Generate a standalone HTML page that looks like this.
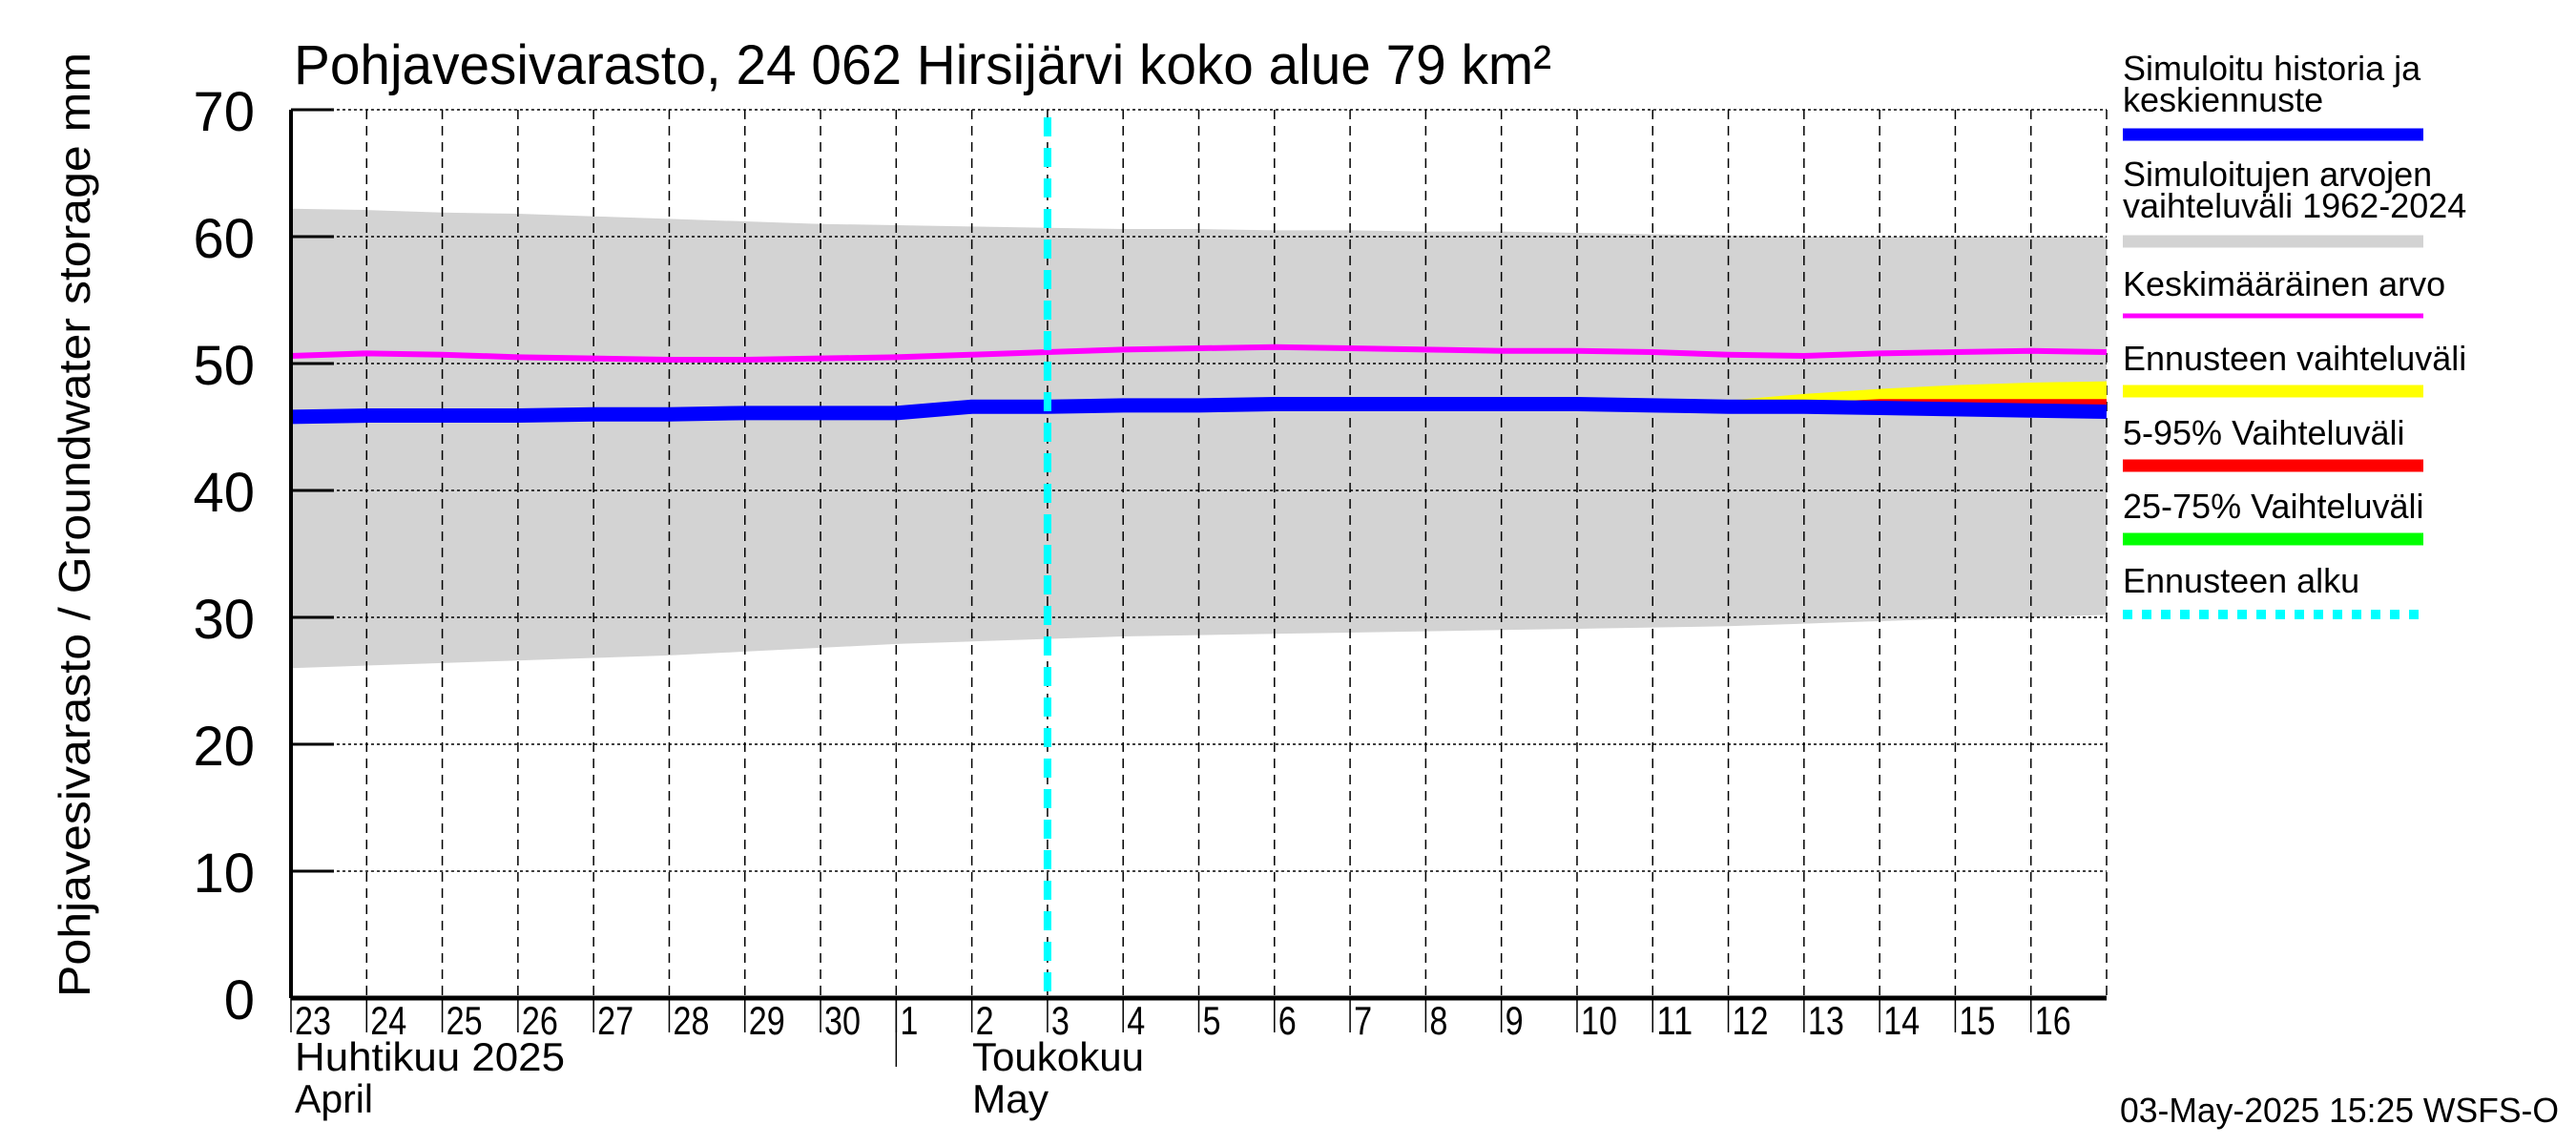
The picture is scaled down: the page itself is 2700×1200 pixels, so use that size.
<!DOCTYPE html>
<html><head><meta charset="utf-8"><style>
html,body{margin:0;padding:0;background:#fff;}
svg{display:block;font-family:"Liberation Sans",sans-serif;}
</style></head><body>
<svg id="chart" width="2700" height="1200" viewBox="0 0 2700 1200" xmlns="http://www.w3.org/2000/svg">
<rect width="2700" height="1200" fill="#fff"/>
<g id="plot"></g>
<text x="308" y="88" font-size="58" textLength="1318" lengthAdjust="spacingAndGlyphs">Pohjavesivarasto, 24 062 Hirsijärvi koko alue 79 km²</text>
<text transform="translate(94,1045) rotate(-90)" font-size="46" textLength="990" lengthAdjust="spacingAndGlyphs">Pohjavesivarasto / Groundwater storage   mm</text>
<g id="legend"></g>
<text x="309" y="1122" font-size="42" textLength="283" lengthAdjust="spacingAndGlyphs">Huhtikuu  2025</text>
<text x="309" y="1166" font-size="42" textLength="82" lengthAdjust="spacingAndGlyphs">April</text>
<text x="1019" y="1122" font-size="42" textLength="180" lengthAdjust="spacingAndGlyphs">Toukokuu</text>
<text x="1019" y="1166" font-size="42" textLength="80" lengthAdjust="spacingAndGlyphs">May</text>
<text x="2222" y="1176" font-size="36" textLength="460" lengthAdjust="spacingAndGlyphs">03-May-2025 15:25 WSFS-O</text>
</svg>
<script>
const dayLabels = ["23","24","25","26","27","28","29","30","1","2","3","4","5","6","7","8","9","10","11","12","13","14","15","16"];
const yTicks = [0,10,20,30,40,50,60,70];
// values at each day boundary (25 points: Apr 23 .. May 17)
const rangeUpper = [62.2,62.1,61.9,61.8,61.6,61.4,61.2,61.0,60.9,60.8,60.7,60.6,60.6,60.5,60.5,60.4,60.4,60.3,60.2,60.1,60.0,60.0,60.0,60.0,60.0];
const rangeLower = [26.0,26.2,26.4,26.6,26.8,27.0,27.3,27.6,27.9,28.1,28.3,28.5,28.6,28.7,28.8,28.9,29.0,29.1,29.2,29.3,29.5,29.7,29.9,30.0,30.2];
const meanValues = [50.6,50.8,50.7,50.5,50.4,50.3,50.3,50.4,50.5,50.7,50.9,51.1,51.2,51.3,51.2,51.1,51.0,51.0,50.9,50.7,50.6,50.8,50.9,51.0,50.9];
const simValues = [45.8,45.9,45.9,45.9,46.0,46.0,46.1,46.1,46.1,46.6,46.6,46.7,46.7,46.8,46.8,46.8,46.8,46.8,46.7,46.6,46.6,46.5,46.4,46.3,46.2];
const forecastUpper = [null,null,null,null,null,null,null,null,null,null,46.6,46.7,46.7,46.8,46.8,46.8,46.8,46.8,46.9,47.1,47.6,48.0,48.3,48.5,48.6];
const p95Upper = [null,null,null,null,null,null,null,null,null,null,46.6,46.7,46.7,46.8,46.8,46.8,46.8,46.8,46.8,46.8,46.9,47.2,47.2,47.2,47.2];
const forecastStartIndex = 10;

const L=305,R=2208,T=115,B=1046,N=24;
const xs=i=>L+(R-L)*i/N;
const ys=v=>B-(B-T)*v/70;
const NS="http://www.w3.org/2000/svg";
const plot=document.getElementById('plot');
function mk(tag,attrs,parent){const e=document.createElementNS(NS,tag);for(const k in attrs)e.setAttribute(k,attrs[k]);(parent||plot).appendChild(e);return e;}

let d='M'+rangeUpper.map((v,i)=>xs(i)+','+ys(v)).join(' L');
for(let i=rangeLower.length-1;i>=0;i--) d+=' L'+xs(i)+','+ys(rangeLower[i]);
let band=mk('path',{d:d+'Z',fill:'#d3d3d3'});



yTicks.forEach(v=>{
  if(v>0&&v<70){let g=mk('line',{x1:L,x2:R,y1:ys(v),y2:ys(v),stroke:'#000','stroke-width':1.5,'stroke-dasharray':'3,3'});
  
  }
  let tk=mk('line',{x1:L,x2:L+45,y1:ys(v),y2:ys(v),stroke:'#000','stroke-width':3});
  
  
  let t=mk('text',{x:L-38,y:ys(v)+22,'font-size':58,'text-anchor':'end'});
  t.textContent=v;
  
  
});
let topg=mk('line',{x1:L,x2:R,y1:T,y2:T,stroke:'#000','stroke-width':1.5,'stroke-dasharray':'3,3'});


for(let i=1;i<=N;i++){
  let g=mk('line',{x1:xs(i),x2:xs(i),y1:T,y2:B,stroke:'#000','stroke-width':1.5,'stroke-dasharray':'10,7'});
  
  
}
dayLabels.forEach((lab,i)=>{
  let tk=mk('line',{x1:xs(i),x2:xs(i),y1:B,y2:B+36,stroke:'#000','stroke-width':1.5});
  
  
  let t=mk('text',{x:xs(i)+4,y:1084,'font-size':42,'textLength':lab.length*19,'lengthAdjust':'spacingAndGlyphs'});
  t.textContent=lab;
  
  
});
let sep=mk('line',{x1:xs(8),x2:xs(8),y1:B,y2:1118,stroke:'#000','stroke-width':1.5});



function bandPath(up,low){let idx=[];up.forEach((v,i)=>{if(v!==null)idx.push(i);});
  let p='M'+idx.map(i=>xs(i)+','+ys(up[i])).join(' L');
  for(let k=idx.length-1;k>=0;k--)p+=' L'+xs(idx[k])+','+ys(low[idx[k]]);return p+'Z';}
let yb=mk('path',{d:bandPath(forecastUpper,simValues),fill:'#ffff00'});


let rb=mk('path',{d:bandPath(p95Upper,simValues),fill:'#ff0000'});



function line(vals,color,w){return mk('polyline',{points:vals.map((v,i)=>xs(i)+','+ys(v)).join(' '),fill:'none',stroke:color,'stroke-width':w,'stroke-linejoin':'round'});}
let ml=line(meanValues,'#ff00ff',6);


let sl=line(simValues,'#0000ff',15);



let fc=mk('line',{x1:xs(forecastStartIndex),x2:xs(forecastStartIndex),y1:T+8,y2:B,stroke:'#00ffff','stroke-width':8,'stroke-dasharray':'20,12'});



let ax=mk('line',{x1:L,x2:R,y1:B,y2:B,stroke:'#000','stroke-width':5});


let ay=mk('line',{x1:L,x2:L,y1:T,y2:B,stroke:'#000','stroke-width':4});



const leg=document.getElementById('legend');
const legendItems=[
 {lines:["Simuloitu historia ja","keskiennuste"],ty:[84,117],by:141,c:'#0000ff',name:'legend-simulated'},
 {lines:["Simuloitujen arvojen","vaihteluväli 1962-2024"],ty:[195,228],by:253,c:'#d3d3d3',name:'legend-range'},
 {lines:["Keskimääräinen arvo"],ty:[310],by:331,c:'#ff00ff',name:'legend-mean',h:5},
 {lines:["Ennusteen vaihteluväli"],ty:[388],by:410,c:'#ffff00',name:'legend-forecast-range'},
 {lines:["5-95% Vaihteluväli"],ty:[466],by:488,c:'#ff0000',name:'legend-p5-95'},
 {lines:["25-75% Vaihteluväli"],ty:[543],by:565,c:'#00ff00',name:'legend-p25-75'},
 {lines:["Ennusteen alku"],ty:[621],by:644,c:'#00ffff',name:'legend-forecast-start',dash:true}
];
legendItems.forEach(it=>{
  const g=mk('g',{},leg);
  
  
  it.lines.forEach((s,k)=>{const t=mk('text',{x:2225,y:it.ty[k],'font-size':36},g);t.textContent=s;});
  if(it.dash) mk('line',{x1:2225,x2:2540,y1:it.by,y2:it.by,stroke:it.c,'stroke-width':10,'stroke-dasharray':'10,10'},g);
  else mk('rect',{x:2225,y:it.by-(it.h||13)/2,width:315,height:it.h||13,fill:it.c},g);
});
</script>
</body></html>
